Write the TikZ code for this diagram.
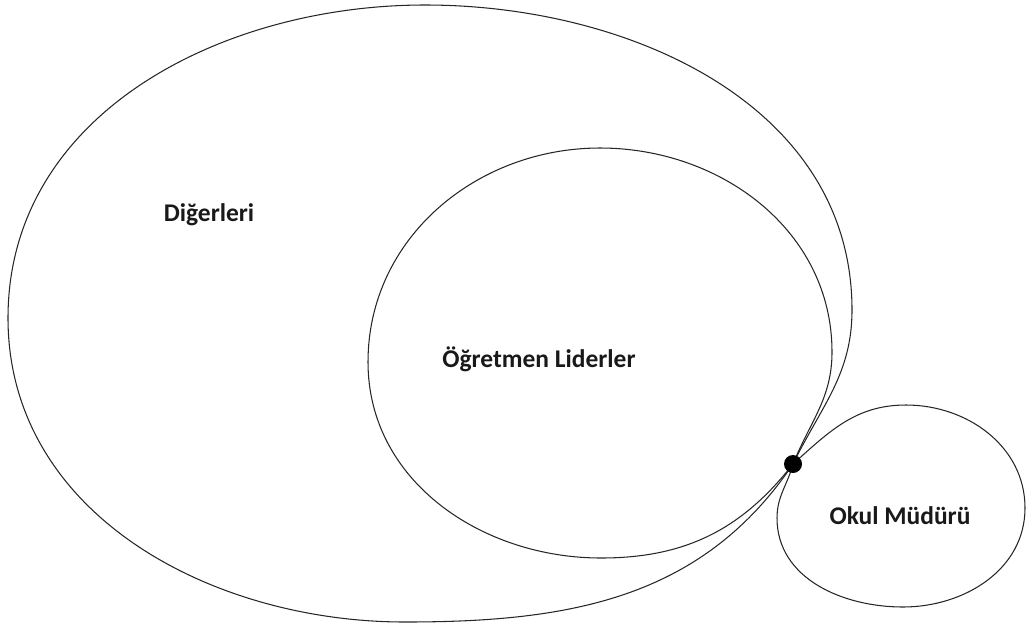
\documentclass[tikz,border=0pt]{standalone}
\usepackage{fontspec}
\setmainfont{Carlito}
\begin{document}
\begin{tikzpicture}[x=0.02cm,y=0.02cm,
  outline/.style={draw=black!85,line width=0.6pt},
  lbl/.style={font=\fontsize{14.5}{16}\selectfont\bfseries,text=black!90,inner sep=0pt}]
\useasboundingbox (0,0) rectangle (1030,-626);
% common meeting point of the three regions
\coordinate (D) at (793,-464);
% outer region
\draw[outline] (D) to[out=64,in=-90] (852,-310) to[out=90,in=0] (425,-5)
  to[out=180,in=90] (8,-318) to[out=-90,in=180] (405,-622) to[out=0,in=236] (D);
% inner region
\draw[outline] (D) to[out=68,in=-90] (832,-352) to[out=90,in=0] (600,-148)
  to[out=180,in=90] (368,-362) to[out=-90,in=180] (601,-558) to[out=0,in=232] (D);
% principal region
\draw[outline] (D) to[out=42,in=180] (906,-405) to[out=0,in=90] (1025,-508)
  to[out=-90,in=0] (903,-607) to[out=180,in=-90] (777,-518) to[out=90,in=255] (D);
\node[circle,fill=black,inner sep=0pt,minimum size=18*0.02cm] (dot) at (D) {};
\node[lbl] (others) at (209,-215) {Diğerleri};
\node[lbl] (leaders) at (539,-359) {Öğretmen Liderler};
\node[lbl] (principal) at (900,-516) {Okul Müdürü};
\end{tikzpicture}
\end{document}
